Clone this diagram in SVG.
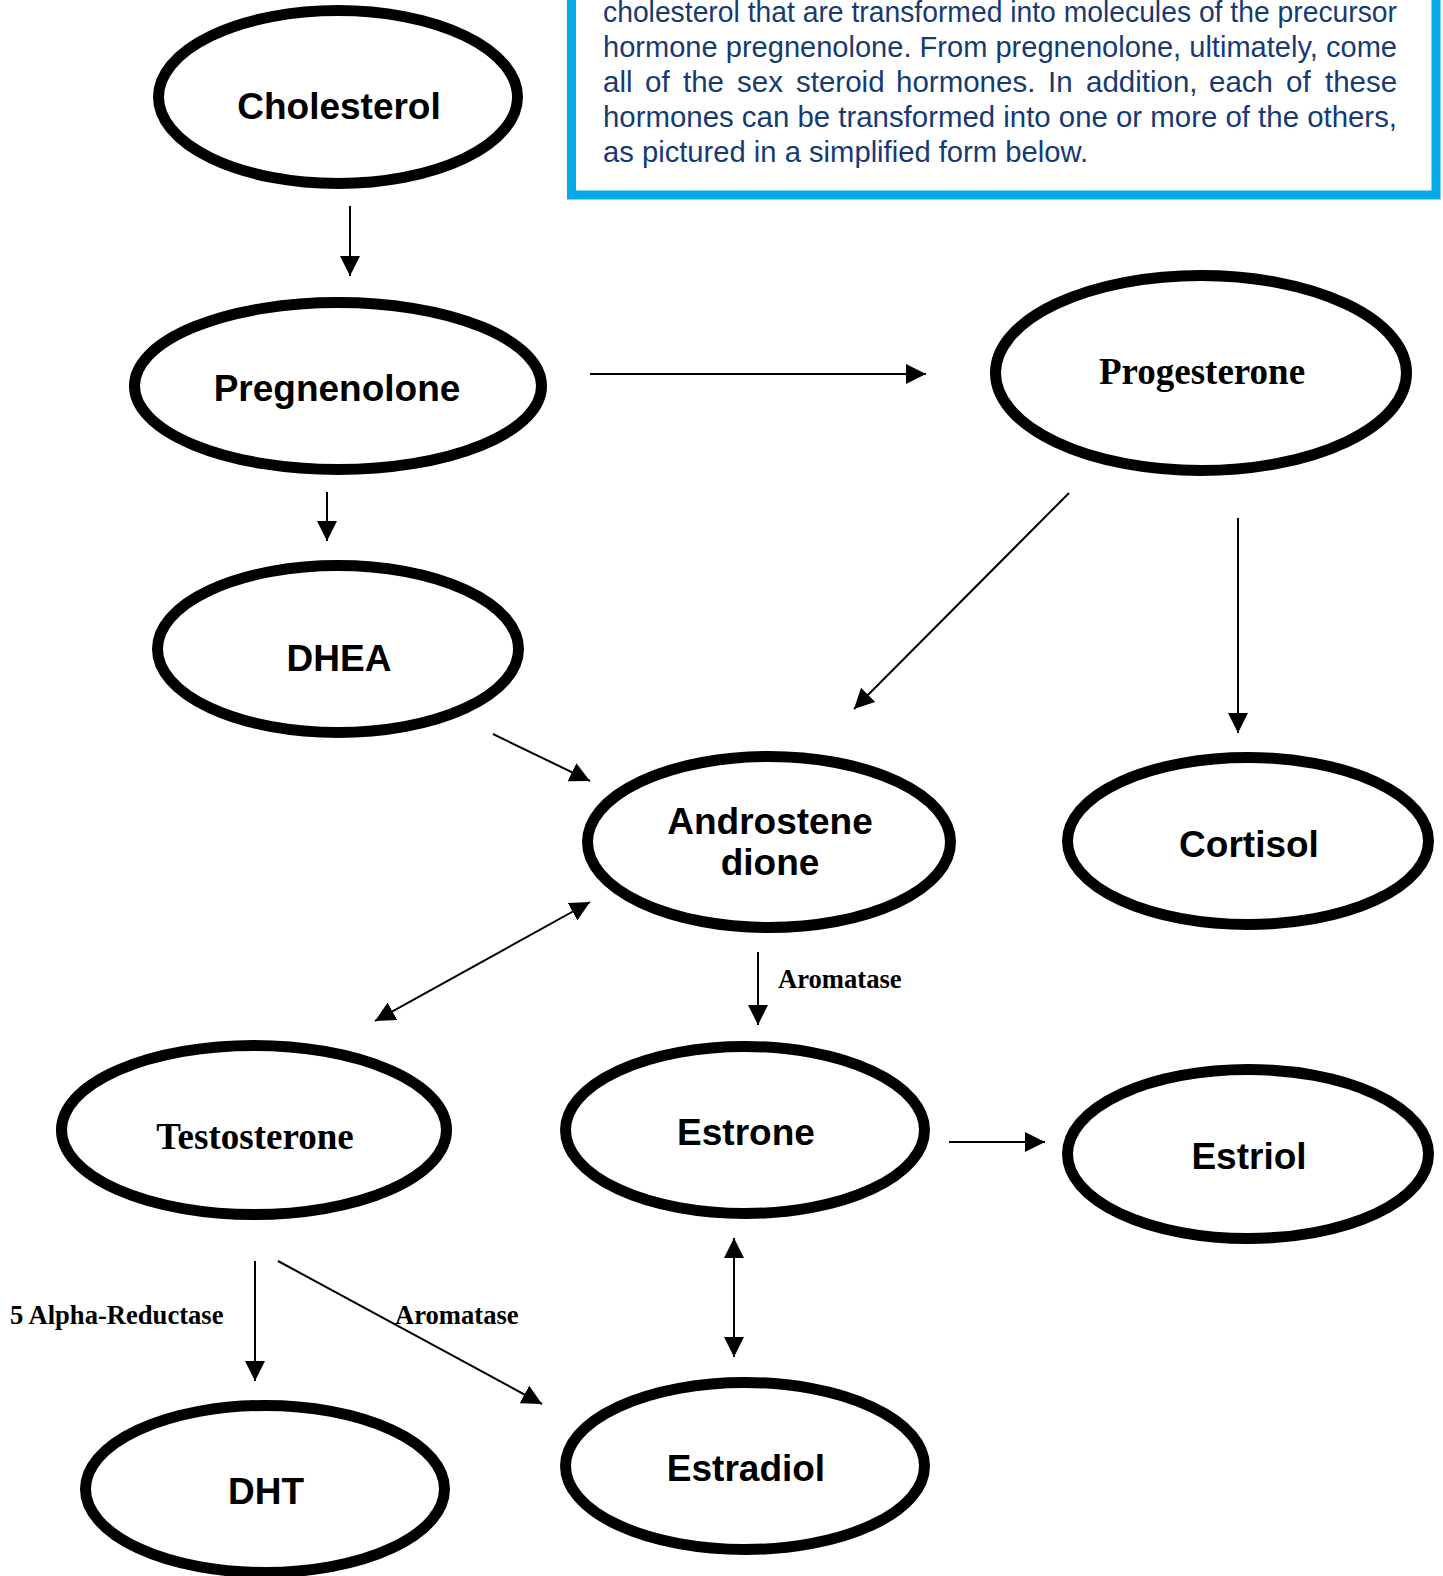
<svg xmlns="http://www.w3.org/2000/svg" width="1443" height="1576" viewBox="0 0 1443 1576">
<defs>
<style>
.node ellipse{fill:#fff;stroke:#000;stroke-width:11}
.sans{font-family:"Liberation Sans",Arial,sans-serif;font-weight:bold;font-size:37px;fill:#000;text-anchor:middle}
.serif{font-family:"Liberation Serif","Times New Roman",serif;font-weight:bold;font-size:37px;fill:#000;text-anchor:middle}
.lbl{font-family:"Liberation Serif","Times New Roman",serif;font-weight:bold;font-size:26.6px;fill:#000}
.para{font-family:"Liberation Sans",Arial,sans-serif;font-size:29.5px;fill:#163a72}
#connectors line{stroke:#000;stroke-width:2;fill:none}
</style>
<marker id="ah" viewBox="0 0 20 20" refX="20" refY="10" markerWidth="20" markerHeight="20" markerUnits="userSpaceOnUse" orient="auto-start-reverse">
<path d="M0,0 L20,10 L0,20 z" fill="#000"/>
</marker>
</defs>
<rect width="1443" height="1576" fill="#fff"/>

<g id="infobox">
<rect x="571.5" y="-20" width="864.5" height="215" fill="#fff" stroke="#03a9e8" stroke-width="9"/>
<text class="para" x="603" y="22" textLength="794" lengthAdjust="spacingAndGlyphs">cholesterol that are transformed into molecules of the precursor</text>
<text class="para" x="603" y="57" textLength="794" lengthAdjust="spacingAndGlyphs">hormone pregnenolone. From pregnenolone, ultimately, come</text>
<text class="para" y="92"><tspan x="603">all</tspan><tspan x="645">of</tspan><tspan x="683">the</tspan><tspan x="737">sex</tspan><tspan x="796">steroid</tspan><tspan x="896">hormones.</tspan><tspan x="1048">In</tspan><tspan x="1086">addition,</tspan><tspan x="1209">each</tspan><tspan x="1286">of</tspan><tspan x="1325">these</tspan></text>
<text class="para" x="603" y="127" textLength="794" lengthAdjust="spacingAndGlyphs">hormones can be transformed into one or more of the others,</text>
<text class="para" x="603" y="162" textLength="485" lengthAdjust="spacingAndGlyphs">as pictured in a simplified form below.</text>
</g>

<g id="connectors">
<line x1="350" y1="206" x2="350" y2="276" marker-end="url(#ah)"/>
<line x1="590" y1="374" x2="926" y2="374" marker-end="url(#ah)"/>
<line x1="327" y1="492" x2="327" y2="541" marker-end="url(#ah)"/>
<line x1="1069" y1="493" x2="854" y2="709" marker-end="url(#ah)"/>
<line x1="1238" y1="518" x2="1238" y2="733" marker-end="url(#ah)"/>
<line x1="493" y1="734" x2="590" y2="781" marker-end="url(#ah)"/>
<line x1="590" y1="902" x2="375" y2="1021" marker-start="url(#ah)" marker-end="url(#ah)"/>
<line x1="758" y1="952" x2="758" y2="1025" marker-end="url(#ah)"/>
<line x1="949" y1="1142" x2="1045" y2="1142" marker-end="url(#ah)"/>
<line x1="734" y1="1238" x2="734" y2="1357" marker-start="url(#ah)" marker-end="url(#ah)"/>
<line x1="255" y1="1261" x2="255" y2="1381" marker-end="url(#ah)"/>
<line x1="278" y1="1261" x2="542" y2="1404" marker-end="url(#ah)"/>
<text class="lbl" x="778" y="988">Aromatase</text>
<text class="lbl" x="10" y="1324">5 Alpha-Reductase</text>
<text class="lbl" x="395" y="1324">Aromatase</text>
</g>

<g id="cholesterol" class="node"><ellipse cx="338" cy="97" rx="179.5" ry="86.5"/><text class="sans" x="339" y="119">Cholesterol</text></g>
<g id="pregnenolone" class="node"><ellipse cx="338" cy="386" rx="203.5" ry="83.5"/><text class="sans" x="337" y="401">Pregnenolone</text></g>
<g id="progesterone" class="node"><ellipse cx="1201" cy="373" rx="205.5" ry="97.5"/><text class="serif" x="1202" y="384">Progesterone</text></g>
<g id="dhea" class="node"><ellipse cx="338" cy="649" rx="180.5" ry="83.5"/><text class="sans" x="339" y="671">DHEA</text></g>
<g id="androstenedione" class="node"><ellipse cx="769" cy="842" rx="181.5" ry="85.5"/><text class="sans" x="770" y="834">Androstene</text><text class="sans" x="770" y="875">dione</text></g>
<g id="cortisol" class="node"><ellipse cx="1248" cy="841" rx="180.5" ry="83.5"/><text class="sans" x="1249" y="857">Cortisol</text></g>
<g id="testosterone" class="node"><ellipse cx="254" cy="1130" rx="192.5" ry="84.5"/><text class="serif" x="255" y="1149">Testosterone</text></g>
<g id="estrone" class="node"><ellipse cx="745" cy="1130" rx="179.5" ry="83.5"/><text class="sans" x="746" y="1145">Estrone</text></g>
<g id="estriol" class="node"><ellipse cx="1248" cy="1154" rx="180.5" ry="84.5"/><text class="sans" x="1249" y="1169">Estriol</text></g>
<g id="dht" class="node"><ellipse cx="265" cy="1489" rx="179.5" ry="83.5"/><text class="sans" x="266" y="1504">DHT</text></g>
<g id="estradiol" class="node"><ellipse cx="745" cy="1466" rx="179.5" ry="83.5"/><text class="sans" x="746" y="1481">Estradiol</text></g>
</svg>
